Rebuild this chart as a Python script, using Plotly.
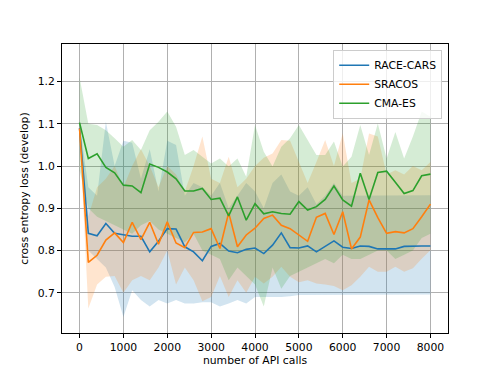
import plotly.graph_objects as go

# =========================
# DATA
# =========================
API_CALLS = list(range(0, 8001, 200))

RACE_CARS = [1.090, 0.841, 0.835, 0.864, 0.841, 0.837, 0.834, 0.834, 0.797, 0.822,
             0.852, 0.851, 0.809, 0.797, 0.776, 0.810, 0.817, 0.799, 0.795, 0.803,
             0.806, 0.793, 0.813, 0.842, 0.807, 0.806, 0.811, 0.797, 0.810, 0.823,
             0.808, 0.805, 0.811, 0.810, 0.804, 0.804, 0.804, 0.810, 0.811, 0.811,
             0.811]
RACE_CARS_HI = [1.100, 0.950, 0.930, 1.105, 1.000, 1.060, 1.055, 0.970, 1.040, 0.940,
                1.060, 1.050, 0.930, 0.960, 0.950, 0.930, 0.960, 0.900, 0.930, 0.960,
                0.940, 0.900, 0.960, 0.980, 0.940, 0.930, 0.950, 0.910, 0.930, 0.960,
                0.930, 0.930, 0.931, 0.931, 0.931, 0.931, 0.931, 0.931, 0.931, 0.931,
                0.931]
RACE_CARS_LO = [1.080, 0.800, 0.780, 0.760, 0.714, 0.643, 0.706, 0.683, 0.668, 0.683,
                0.675, 0.683, 0.675, 0.675, 0.678, 0.678, 0.668, 0.675, 0.683, 0.675,
                0.690, 0.690, 0.690, 0.690, 0.692, 0.695, 0.695, 0.695, 0.695, 0.695,
                0.696, 0.696, 0.696, 0.696, 0.696, 0.696, 0.696, 0.696, 0.696, 0.696,
                0.696]

SRACOS = [1.089, 0.772, 0.789, 0.825, 0.842, 0.819, 0.867, 0.826, 0.867, 0.815,
          0.868, 0.818, 0.807, 0.843, 0.844, 0.852, 0.805, 0.890, 0.809, 0.837,
          0.853, 0.876, 0.884, 0.860, 0.852, 0.838, 0.822, 0.879, 0.888, 0.838,
          0.892, 0.804, 0.832, 0.920, 0.878, 0.841, 0.845, 0.842, 0.852, 0.880,
          0.910]
SRACOS_HI = [1.100, 0.880, 0.950, 0.970, 1.000, 0.950, 1.000, 1.040, 1.000, 0.950,
             1.000, 0.980, 0.940, 1.000, 1.070, 0.970, 0.960, 1.022, 0.950, 0.970,
             1.000, 1.020, 1.030, 1.062, 1.060, 1.010, 0.960, 1.010, 1.062, 1.000,
             1.078, 0.960, 0.970, 1.077, 1.070, 0.980, 0.990, 0.980, 1.000, 0.990,
             1.010]
SRACOS_LO = [1.080, 0.663, 0.720, 0.738, 0.740, 0.700, 0.730, 0.740, 0.730, 0.760,
             0.800, 0.720, 0.760, 0.730, 0.680, 0.690, 0.740, 0.690, 0.730, 0.700,
             0.738, 0.722, 0.738, 0.762, 0.738, 0.725, 0.730, 0.722, 0.720, 0.716,
             0.706, 0.718, 0.738, 0.762, 0.750, 0.750, 0.762, 0.750, 0.758, 0.781,
             0.801]

CMA_ES = [1.103, 1.018, 1.029, 0.997, 0.984, 0.955, 0.953, 0.937, 1.005, 0.997,
          0.986, 0.970, 0.941, 0.941, 0.947, 0.921, 0.924, 0.882, 0.927, 0.872,
          0.911, 0.887, 0.892, 0.888, 0.886, 0.916, 0.896, 0.904, 0.921, 0.953,
          0.920, 0.905, 0.983, 0.921, 0.985, 0.988, 0.962, 0.935, 0.942, 0.977,
          0.981]
CMA_ES_HI = [1.210, 1.100, 1.097, 1.085, 1.066, 1.046, 1.062, 1.038, 1.085, 1.105,
             1.129, 1.093, 1.026, 1.038, 1.022, 1.006, 1.018, 0.999, 1.018, 0.975,
             1.097, 1.034, 0.999, 1.046, 1.066, 1.097, 1.062, 1.026, 1.026, 1.058,
             0.999, 1.022, 1.097, 1.026, 1.101, 1.018, 1.081, 1.018, 1.070, 1.129,
             1.117]
CMA_ES_LO = [0.990, 0.900, 0.880, 0.870, 0.860, 0.850, 0.840, 0.860, 0.870, 0.850,
             0.840, 0.830, 0.820, 0.840, 0.800, 0.790, 0.780, 0.730, 0.760, 0.740,
             0.720, 0.668, 0.760, 0.710, 0.740, 0.750, 0.760, 0.770, 0.780, 0.770,
             0.790, 0.780, 0.780, 0.790, 0.800, 0.800, 0.780, 0.790, 0.800, 0.830,
             0.840]

X_TICKS = [0, 1000, 2000, 3000, 4000, 5000, 6000, 7000, 8000]
Y_TICKS = [0.7, 0.8, 0.9, 1.0, 1.1, 1.2]

SERIES = [
    ("RACE-CARS", RACE_CARS, RACE_CARS_HI, RACE_CARS_LO, "#1f77b4", "rgba(31,119,180,0.2)"),
    ("SRACOS", SRACOS, SRACOS_HI, SRACOS_LO, "#ff7f0e", "rgba(255,127,14,0.2)"),
    ("CMA-ES", CMA_ES, CMA_ES_HI, CMA_ES_LO, "#2ca02c", "rgba(44,160,44,0.2)"),
]

FONT = "DejaVu Sans"

# =========================
# FIGURE
# =========================
fig = go.Figure()

# bands first, lines on top
for name, mean, hi, lo, color, fill in SERIES:
    fig.add_trace(go.Scatter(
        x=API_CALLS + API_CALLS[::-1],
        y=hi + lo[::-1],
        fill="toself",
        fillcolor=fill,
        line=dict(width=0),
        mode="lines",
        hoverinfo="skip",
        showlegend=False,
    ))

for name, mean, hi, lo, color, fill in SERIES:
    fig.add_trace(go.Scatter(
        x=API_CALLS,
        y=mean,
        mode="lines",
        name=name,
        line=dict(color=color, width=1.6),
    ))

axis_common = dict(
    automargin=False,
    showline=True,
    linecolor="black",
    linewidth=0.9,
    mirror=True,
    ticks="outside",
    ticklen=4,
    tickwidth=0.9,
    tickcolor="black",
    showgrid=True,
    gridcolor="#b0b0b0",
    gridwidth=0.9,
    zeroline=False,
    tickfont=dict(family=FONT, size=10.8, color="black"),
)

fig.update_xaxes(
    range=[-400, 8400],
    tickvals=X_TICKS,
    title=dict(text="number of API calls", font=dict(family=FONT, size=10.8, color="black"), standoff=3),
    **axis_common,
)
fig.update_yaxes(
    range=[0.605, 1.289],
    tickvals=Y_TICKS,
    tickformat=".1f",
    title=dict(text="cross entropy loss (develop)", font=dict(family=FONT, size=10.8, color="black"), standoff=6),
    **axis_common,
)

# page body has an 8px default margin, so the figure is shrunk by that much
fig.update_layout(
    width=490,
    height=366,
    margin=dict(l=54, r=50, t=36, b=41),
    paper_bgcolor="white",
    plot_bgcolor="white",
    font=dict(family=FONT, size=10.8, color="black"),
    legend=dict(
        x=0.985, y=0.98,
        xanchor="right", yanchor="top",
        bgcolor="rgba(255,255,255,0.8)",
        bordercolor="#cccccc",
        borderwidth=1,
        font=dict(family=FONT, size=10.8, color="black"),
        tracegroupgap=0,
        itemwidth=30,
    ),
)

fig.write_html("out.html")
